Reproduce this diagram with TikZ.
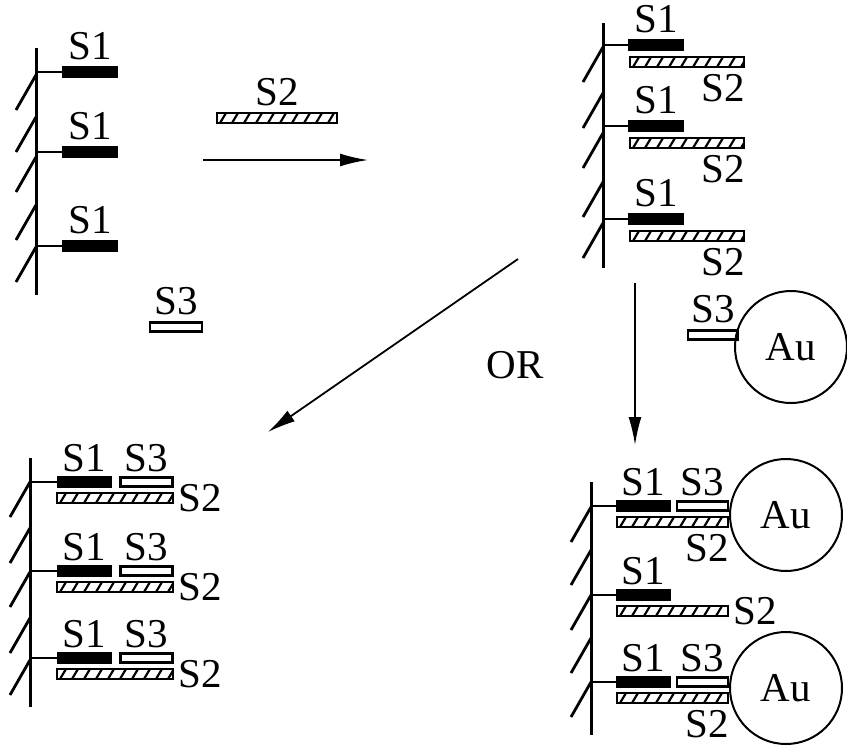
\documentclass[tikz,border=0pt]{standalone}
\usepackage{fontspec}
\setmainfont{Liberation Serif}
\newfontfamily\figfont{Liberation Serif}
\usetikzlibrary{arrows.meta,positioning}
\tikzset{
  wall/.style={line width=1.5pt},
  hatch/.style={line width=1.4pt},
  arm/.style={line width=0.9pt},
  sonebar/.style={draw,fill=black,line width=0.6pt,minimum width=27pt,minimum height=5.5pt,inner sep=0pt},
  sthreebar/.style={draw,fill=white,line width=1.1pt,minimum width=26pt,minimum height=4.5pt,inner sep=0pt},
  stwobar/.style={draw,line width=1pt,minimum height=5pt,inner sep=0pt,
    path picture={\foreach \k in {0,...,11}
      \draw[line width=1.1pt] ([xshift=\k*6pt+1.5pt]path picture bounding box.south west) -- ++(3pt,5pt);}},
  lbl/.style={inner sep=0pt,font=\figfont\fontsize{20.5}{24}\selectfont},
  goldball/.style={draw,circle,line width=1pt,minimum size=56pt,inner sep=0pt,font=\figfont\fontsize{20.5}{24}\selectfont},
  flow/.style={line width=0.9pt,-{Latex[length=14pt,width=6.5pt]}}
}
\begin{document}
\begin{tikzpicture}[x=0.5pt,y=-0.5pt]
\useasboundingbox (0,0) rectangle (847,750);

% surface with S1
\coordinate (wa) at (36,48);
\draw[wall] (wa) -- (36,295);
\foreach \y in {75,117,157,205,247} \draw[hatch] (36,\y) -- ++(-20,35);
\foreach \n/\y in {1/72,2/152,3/246}{
  \node[sonebar] (a\n) at (90,\y) {};
  \node[lbl,above=3pt of a\n] {S1};
  \draw[arm] (a\n.west) -- (a\n.west -| wa);
}

% free strands
\node[stwobar,minimum width=60pt] (s2free) at (277,118) {};
\node[lbl,above=3pt of s2free] {S2};
\node[sthreebar] (s3free) at (176,327) {};
\node[lbl,above=3pt of s3free] {S3};
\coordinate (f1) at (203,160);
\coordinate (f2) at (368,160);
\draw[flow] (f1) -- (f2);

% surface after hybridisation with S2
\coordinate (wb) at (603,23);
\draw[wall] (wb) -- (603,268);
\foreach \y in {47,93,133,182,223} \draw[hatch] (603,\y) -- ++(-20,35);
\foreach \n/\y in {1/45,2/126,3/219}{
  \node[sonebar] (b\n) at (656,\y) {};
  \node[lbl,above=3pt of b\n] {S1};
  \draw[arm] (b\n.west) -- (b\n.west -| wb);
  \node[stwobar,minimum width=57pt] (bh\n) at (687,\y+17) {};
  \node[lbl,anchor=north east] at ([yshift=-3pt]bh\n.south east) {S2};
}

% S3 on gold
\node[sthreebar,minimum width=25pt] (c3free) at (713,335) {};
\node[lbl,above=3pt of c3free] {S3};
\node[goldball] (au1) at (791,347) {Au};

% arrows
\coordinate (g1) at (518,259);
\coordinate (g2) at (268,432);
\draw[flow] (g1) -- (g2);
\coordinate (h1) at (635,283);
\coordinate (h2) at (635,445);
\draw[flow] (h1) -- (h2);
\node[lbl] (or) at (515,365) {OR};

% result with free S3
\coordinate (wc) at (30,458);
\draw[wall] (wc) -- (30,707);
\foreach \y in {482,528,572,618,660} \draw[hatch] (30,\y) -- ++(-20,35);
\foreach \n/\y in {1/482,2/571,3/658}{
  \node[sonebar] (c\n) at (84.5,\y) {};
  \node[lbl,above=2pt of c\n] {S1};
  \draw[arm] (c\n.west) -- (c\n.west -| wc);
  \node[sthreebar] (ct\n) at (146.5,\y) {};
  \node[lbl,above=2pt of ct\n] {S3};
  \node[stwobar,minimum width=58pt] (ch\n) at (115,\y+16) {};
  \node[lbl,right=2pt of ch\n] {S2};
}

% result with gold labelled S3
\coordinate (wd) at (591,482);
\draw[wall] (wd) -- (591,735);
\foreach \y in {507,550,595,638,682} \draw[hatch] (591,\y) -- ++(-20,35);
\foreach \n/\y in {1/506,2/595,3/682}{
  \node[sonebar] (d\n) at (643.5,\y) {};
  \node[lbl,above=2pt of d\n] {S1};
  \draw[arm] (d\n.west) -- (d\n.west -| wd);
  \node[stwobar,minimum width=55.5pt] (dh\n) at (672.5,\y+16) {};
}
\foreach \n in {1,3}{
  \node[sthreebar,minimum width=25.5pt] (dt\n) at (702.5,0 |- d\n) {};
  \node[lbl,above=2pt of dt\n] {S3};
  \node[lbl,anchor=north east] at ([yshift=-3pt]dh\n.south east) {S2};
}
\node[lbl,right=2pt of dh2] {S2};
\node[goldball] (au2) at (786,515) {Au};
\node[goldball] (au3) at (786,688) {Au};
\end{tikzpicture}
\end{document}
